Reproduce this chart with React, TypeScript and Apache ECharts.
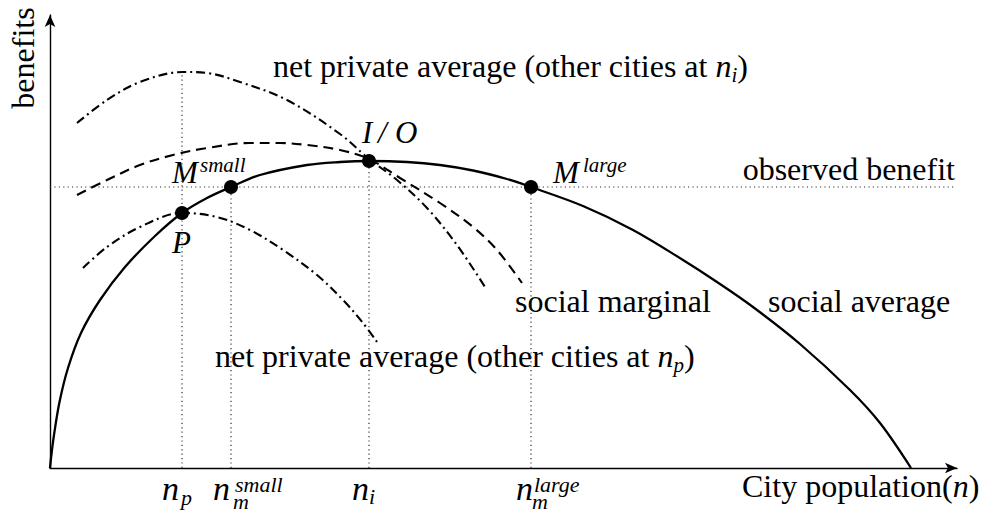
import React, { useEffect, useRef } from "react";
import * as echarts from "echarts";

// ---- data (x: city population, y: benefits; arbitrary units) ----
const socialAverage: number[][] = [
  [0, 0], [0.015, 0.14], [0.04, 0.33], [0.095, 0.66], [0.18, 1.0], [0.31, 1.35],
  [0.5, 1.68], [0.75, 2.01], [1.05, 2.32], [1.32, 2.55], [1.57, 2.7], [1.81, 2.81],
  [2.1, 2.93], [2.57, 3.03], [2.9, 3.06], [3.19, 3.07], [3.57, 3.06], [3.9, 3.03],
  [4.23, 2.975], [4.57, 2.89], [4.81, 2.81], [5.33, 2.62], [5.83, 2.38], [6.33, 2.08],
  [6.67, 1.86], [7.03, 1.61], [7.5, 1.24], [8.0, 0.78], [8.3, 0.45], [8.61, 0],
];
const socialMarginal: number[][] = [
  [0.27, 2.73], [0.57, 2.88], [0.9, 3.03], [1.23, 3.13], [1.57, 3.2], [2.0, 3.25],
  [2.3, 3.25], [2.57, 3.23], [2.9, 3.18], [3.19, 3.09], [3.5, 2.9], [3.9, 2.65],
  [4.23, 2.41], [4.47, 2.18], [4.72, 1.85],
];
const privateAvgAtNi: number[][] = [
  [0.27, 3.45], [0.57, 3.68], [0.9, 3.86], [1.33, 3.96], [1.57, 3.95], [1.9, 3.86],
  [2.37, 3.68], [2.9, 3.34], [3.19, 3.09], [3.47, 2.88], [3.77, 2.6], [4.07, 2.23],
  [4.35, 1.81],
];
const privateAvgAtNp: number[][] = [
  [0.33, 2.0], [0.57, 2.21], [0.9, 2.41], [1.32, 2.55], [1.67, 2.51], [2.0, 2.38],
  [2.33, 2.18], [2.67, 1.93], [2.93, 1.68], [3.13, 1.45], [3.27, 1.26],
];

const nP = 1.32;
const nMSmall = 1.81;
const nI = 3.19;
const nMLarge = 4.81;
const observedBenefit = 2.81;
const privateAtNiPeak = 3.96;
const benefitAtP = 2.55;
const benefitAtNi = 3.07;
const xMax = 9.07;
const yMax = 4.53;
const observedLineEnd = 9.06;

const pointNames = ["P", "Msmall", "IO", "Mlarge"];
const pointX = [nP, nMSmall, nI, nMLarge];
const pointY = [benefitAtP, observedBenefit, benefitAtNi, observedBenefit];

const SERIF = '"Liberation Serif", "Times New Roman", serif';
const TEXT_SIZE = 32;

function txt(text: string, x: number, baseline: number, size: number, italic = false, align = "left") {
  return {
    type: "text",
    x,
    y: baseline - 0.3375 * size,
    silent: true,
    style: {
      text,
      fontSize: size,
      fontFamily: SERIF,
      fontStyle: italic ? "italic" : "normal",
      fill: "#000",
      align,
      verticalAlign: "middle",
    },
  };
}

function richTxt(text: string, x: number, baseline: number, align = "left") {
  const size = TEXT_SIZE;
  return {
    type: "text",
    x,
    y: baseline - 0.3375 * size,
    silent: true,
    style: {
      text,
      fontSize: size,
      fontFamily: SERIF,
      fill: "#000",
      align,
      verticalAlign: "middle",
      rich: {
        t: { fontSize: size, fontFamily: SERIF, fill: "#000", lineHeight: size },
        m: { fontSize: size, fontFamily: SERIF, fontStyle: "italic", fill: "#000", lineHeight: size },
        s: { fontSize: 21, fontFamily: SERIF, fontStyle: "italic", fill: "#000", lineHeight: 21, padding: [17, 0, 0, 0] },
      },
    },
  };
}

const dotted = { color: "#333", width: 1.2, type: [1.2, 3.2] as any };

function guide(data: number[][]) {
  return {
    type: "line",
    data,
    showSymbol: false,
    symbol: "none",
    lineStyle: dotted,
    silent: true,
    z: 1,
  };
}

export default function App() {
  const ref = useRef<HTMLDivElement>(null);
  useEffect(() => {
    if (!ref.current) return;
    const chart = echarts.init(ref.current, null, { renderer: "svg" });
    const axisCommon = {
      type: "value",
      min: 0,
      axisLine: {
        show: true,
        onZero: false,
        lineStyle: { color: "#000", width: 1.4 },
        symbol: ["none", "arrow"],
        symbolSize: [8, 12],
      },
      axisTick: { show: false },
      axisLabel: { show: false },
      splitLine: { show: false },
    };
    const curve = (data: number[][], type: any, width: number) => ({
      type: "line",
      data,
      smooth: 0.35,
      showSymbol: false,
      symbol: "none",
      silent: true,
      lineStyle: { color: "#000", width, type },
      z: 3,
    });
    chart.setOption({
      animation: false,
      backgroundColor: "#fff",
      grid: { left: 50, right: 32, top: 15, bottom: 48, containLabel: false },
      xAxis: { ...axisCommon, max: xMax },
      yAxis: { ...axisCommon, max: yMax },
      series: [
        guide([[0, observedBenefit], [observedLineEnd, observedBenefit]]),
        guide([[nP, 0], [nP, privateAtNiPeak]]),
        guide([[nMSmall, 0], [nMSmall, observedBenefit]]),
        guide([[nI, 0], [nI, benefitAtNi]]),
        guide([[nMLarge, 0], [nMLarge, observedBenefit]]),
        curve(socialAverage, "solid", 2.3),
        curve(socialMarginal, [10, 6], 2.1),
        curve(privateAvgAtNi, [9, 4, 2, 4], 2.1),
        curve(privateAvgAtNp, [9, 4, 2, 4], 2.1),
        {
          type: "scatter",
          data: pointX.map((x, i) => [x, pointY[i], pointNames[i]]),
          symbol: "circle",
          symbolSize: 14,
          itemStyle: { color: "#000", opacity: 1 },
          silent: true,
          z: 5,
        },
      ],
    });

    const px = (x: number, y: number) => chart.convertToPixel({ gridIndex: 0 }, [x, y]) as number[];
    const [pX, pY] = px(nP, benefitAtP);
    const [msX, msY] = px(nMSmall, observedBenefit);
    const [ioX, ioY] = px(nI, benefitAtNi);
    const [mlX, mlY] = px(nMLarge, observedBenefit);
    const [, axisY] = px(0, 0);
    const tP = px(nP, 0)[0];
    const tMs = px(nMSmall, 0)[0];
    const tI = px(nI, 0)[0];
    const tMl = px(nMLarge, 0)[0];
    const lb = axisY + 32;

    chart.setOption({
      graphic: [
        // point labels
        txt("P", pX - 10, pY + 40, 31, true),
        txt("M", msX - 59, msY - 4, 31, true),
        txt("small", msX - 31, msY - 15, 21, true),
        txt("I", ioX - 7, ioY - 18, 31, true),
        txt("/", ioX + 9, ioY - 18, 31, true),
        txt("O", ioX + 26, ioY - 18, 31, true),
        txt("M", mlX + 22, mlY - 4, 31, true),
        txt("large", mlX + 52, mlY - 15, 21, true),
        // axis tick labels
        txt("n", tP - 20, lb, 34, true),
        txt("p", tP - 1, lb + 5, 22, true),
        txt("n", tMs - 18, lb, 34, true),
        txt("small", tMs + 4, lb - 8, 22, true),
        txt("m", tMs + 2, lb + 9, 22, true),
        txt("n", tI - 17, lb, 34, true),
        txt("i", tI, lb + 4, 22, true),
        txt("n", tMl - 15, lb, 34, true),
        txt("large", tMl + 3, lb - 8, 22, true),
        txt("m", tMl + 1, lb + 9, 22, true),
        // annotations
        richTxt("{t|net private average (other cities at }{m|n}{s|i}{t|)}", 273, 77),
        richTxt("{t|net private average (other cities at }{m|n}{s|p}{t|)}", 215, 367),
        txt("observed benefit", 955, 180, TEXT_SIZE, false, "right"),
        txt("social marginal", 515, 312, TEXT_SIZE),
        txt("social average", 768, 312, TEXT_SIZE),
        richTxt("{t|City population(}{m|n}{t|)}", 742, 497),
        {
          type: "text",
          x: 22.5,
          y: 58,
          rotation: Math.PI / 2,
          silent: true,
          style: {
            text: "benefits",
            fontSize: TEXT_SIZE,
            fontFamily: SERIF,
            fill: "#000",
            align: "center",
            verticalAlign: "middle",
          },
        },
      ],
    });
    return () => chart.dispose();
  }, []);
  return (
    <div
      ref={ref}
      style={{ position: "fixed", left: 0, top: 0, width: 989, height: 516, background: "#fff" }}
    />
  );
}
